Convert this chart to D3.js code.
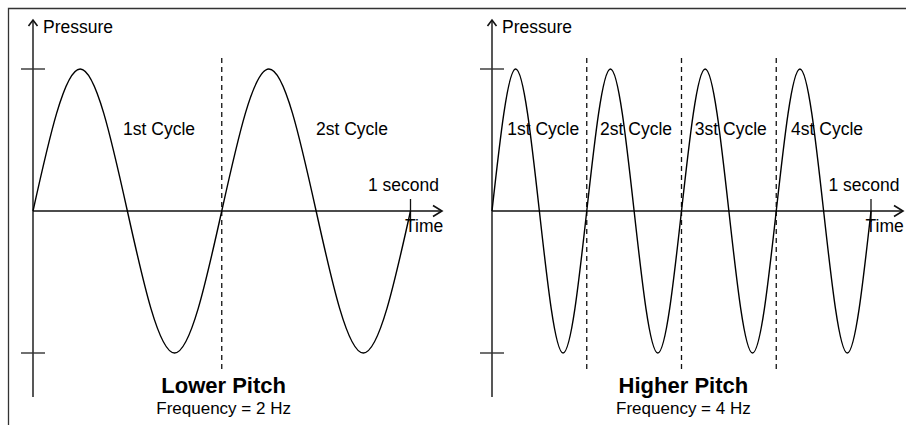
<!DOCTYPE html>
<html>
<head>
<meta charset="utf-8">
<script src="https://d3js.org/d3.v7.min.js"></script>
<style>
  body { margin: 0; background: #fff; }
  text { font-family: 'Liberation Sans', Arial, sans-serif; fill: #000; }
</style>
</head>
<body>
<script>
var width = 906;
var height = 425;

// Panel titles and frequencies.
var titles = ['Lower Pitch', 'Higher Pitch'];
var frequencies = [2, 4];

// Wave samples (time in seconds, relative pressure).
var lowerWave = [[0, 0], [0.125, 1], [0.25, 0], [0.375, -1], [0.5, 0],
  [0.625, 1], [0.75, 0], [0.875, -1], [1, 0]];
var higherWave = [[0, 0], [0.0625, 1], [0.125, 0], [0.1875, -1], [0.25, 0],
  [0.3125, 1], [0.375, 0], [0.4375, -1], [0.5, 0],
  [0.5625, 1], [0.625, 0], [0.6875, -1], [0.75, 0],
  [0.8125, 1], [0.875, 0], [0.9375, -1], [1, 0]];

// Cycle boundaries and labels.
var lowerCycleEnds = [0.5];
var higherCycleEnds = [0.25, 0.5, 0.75];
var lowerLabels = ['1st Cycle', '2st Cycle'];
var higherLabels = ['1st Cycle', '2st Cycle', '3st Cycle', '4st Cycle'];
var lowerLabelT = [0.334, 0.845];
var higherLabelT = [0.135, 0.38, 0.63, 0.884];

// Pressure ticks.
var pressureTicks = [1, -1];

var panels = [
  {title: titles[0], freq: frequencies[0], wave: lowerWave, ends: lowerCycleEnds,
   labels: lowerLabels, labelT: lowerLabelT, x0: 33, x1: 410.5, tip: 442},
  {title: titles[1], freq: frequencies[1], wave: higherWave, ends: higherCycleEnds,
   labels: higherLabels, labelT: higherLabelT, x0: 492, x1: 871, tip: 903}
];

// Create SVG canvas.
var svg = d3.select('body')
  .append('svg')
  .attr('width', width)
  .attr('height', height);

// Outer frame (top and left only).
svg.append('path')
  .attr('d', 'M8.5,425 L8.5,8.5 L906,8.5')
  .attr('fill', 'none')
  .attr('stroke', '#333')
  .attr('stroke-width', 1.3);

var y = d3.scaleLinear().domain([-1, 1]).range([353, 69]);

panels.forEach(function(p) {
  var x = d3.scaleLinear().domain([0, 1]).range([p.x0, p.x1]);
  var g = svg.append('g');
  var ox = x(0), oy = y(0);

  // Dashed cycle separators.
  g.selectAll('.sep')
    .data(p.ends)
    .enter().append('line')
    .attr('x1', function(d) { return x(d); })
    .attr('x2', function(d) { return x(d); })
    .attr('y1', 58)
    .attr('y2', 371)
    .attr('stroke', '#111')
    .attr('stroke-width', 1.3)
    .attr('stroke-dasharray', '5,4');

  // Axes.
  g.append('line')
    .attr('x1', ox).attr('x2', ox)
    .attr('y1', 20).attr('y2', 397)
    .attr('stroke', '#111').attr('stroke-width', 1.4);
  g.append('path')
    .attr('d', 'M' + (ox - 4.5) + ',26 L' + ox + ',20 L' + (ox + 4.5) + ',26')
    .attr('fill', 'none').attr('stroke', '#111').attr('stroke-width', 1.6);
  g.append('line')
    .attr('x1', ox).attr('x2', p.tip)
    .attr('y1', oy).attr('y2', oy)
    .attr('stroke', '#111').attr('stroke-width', 1.4);
  g.append('path')
    .attr('d', 'M' + (p.tip - 9) + ',' + (oy - 5.5) + ' L' + p.tip + ',' + oy +
      ' L' + (p.tip - 9) + ',' + (oy + 5.5))
    .attr('fill', 'none').attr('stroke', '#111').attr('stroke-width', 1.6);

  // Pressure ticks.
  g.selectAll('.ptick')
    .data(pressureTicks)
    .enter().append('line')
    .attr('x1', ox - 12).attr('x2', ox + 12)
    .attr('y1', function(d) { return y(d); })
    .attr('y2', function(d) { return y(d); })
    .attr('stroke', '#333').attr('stroke-width', 1.4);

  // 1 second tick.
  g.append('line')
    .attr('x1', x(1)).attr('x2', x(1))
    .attr('y1', 199).attr('y2', 222)
    .attr('stroke', '#111').attr('stroke-width', 1.3);

  // Wave.
  var line = d3.line()
    .x(function(d) { return x(d[0]); })
    .y(function(d) { return y(d[1]); })
    .curve(d3.curveNatural);
  g.append('path')
    .datum(p.wave)
    .attr('d', line)
    .attr('fill', 'none')
    .attr('stroke', '#000')
    .attr('stroke-width', 1.4);

  // Text labels.
  g.append('text')
    .attr('x', ox + 10).attr('y', 33)
    .attr('font-size', 17.5)
    .text('Pressure');
  g.append('text')
    .attr('x', x(1) + 28.5).attr('y', 191)
    .attr('text-anchor', 'end')
    .attr('font-size', 17.5)
    .text('1 second');
  g.append('text')
    .attr('x', x(1) - 5.5).attr('y', 232)
    .attr('font-size', 17.5)
    .text('Time');

  g.selectAll('.cycle')
    .data(p.labels)
    .enter().append('text')
    .attr('x', function(d, i) { return x(p.labelT[i]); })
    .attr('y', 135)
    .attr('text-anchor', 'middle')
    .attr('font-size', 17.5)
    .text(function(d) { return d; });

  g.append('text')
    .attr('x', x(0.505)).attr('y', 393)
    .attr('text-anchor', 'middle')
    .attr('font-size', 22)
    .attr('font-weight', 'bold')
    .text(p.title);
  g.append('text')
    .attr('x', x(0.505)).attr('y', 414)
    .attr('text-anchor', 'middle')
    .attr('font-size', 17)
    .text('Frequency = ' + p.freq + ' Hz');
});
</script>
</body>
</html>
